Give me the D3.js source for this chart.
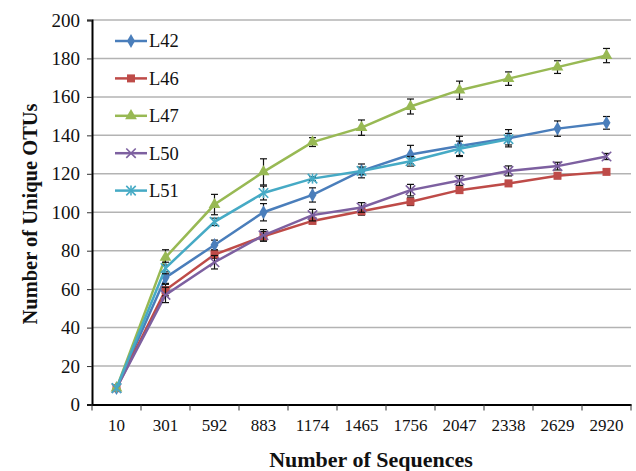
<!DOCTYPE html>
<html>
<head>
<meta charset="utf-8">
<script src="https://cdn.jsdelivr.net/npm/d3@7"></script>
<style>
  body { margin: 0; background: #fff; }
  svg { display: block; font-family: "Liberation Serif", "DejaVu Serif", serif; }
</style>
</head>
<body>
<svg id="chart" width="636" height="471"></svg>
<script>
const sequences = ['10', '301', '592', '883', '1174', '1465', '1756', '2047', '2338', '2629', '2920'];
const yTicks = [0, 20, 40, 60, 80, 100, 120, 140, 160, 180, 200];

const seriesNames = ['L42', 'L46', 'L47', 'L50', 'L51'];
const L42 = [8.5, 66, 83, 100, 109, 121.5, 130, 134.5, 138.5, 143.5, 146.5];
const L42err = [0, 3, 2.5, 4.5, 3.7, 3.6, 4.8, 5, 4.5, 4, 3.3];
const L46 = [8.5, 59.5, 78, 87.5, 95.5, 100.5, 105.5, 111.5, 115, 119, 121];
const L46err = [0, 3, 2, 2.5, 1.5, 2, 2, 1.5, 1.5, 1.5, 1.2];
const L47 = [8.5, 76.5, 104, 121, 136.5, 144, 155, 163.5, 169.5, 175.5, 181.5];
const L47err = [0, 4, 5.3, 6.8, 2.3, 4, 3.9, 4.7, 3.5, 3.3, 3.7];
const L50 = [8.5, 57, 74, 88, 98.5, 102.5, 111.5, 116.5, 121.5, 124, 129];
const L50err = [0, 4, 3.5, 3, 3, 2.5, 3, 2.5, 2.6, 2, 1.6];
const L51 = [8.5, 71, 95, 110, 117.5, 121.5, 126.5, 133, 138];
const L51err = [0, 3, 1.9, 3.6, 1, 2, 2.5, 4, 3];

const colors = ['#4a7ebb', '#be4b48', '#98b954', '#7d60a0', '#46aac5'];
const markers = ['diamond', 'square', 'triangle', 'cross', 'star'];
const values = [L42, L46, L47, L50, L51];
const errors = [L42err, L46err, L47err, L50err, L51err];

const svg = d3.select('#chart');
const margin = { top: 20, right: 5, bottom: 67, left: 92 };
const width = 631 - margin.left;
const height = 404.5 - margin.top;

const x = d3.scaleBand().domain(sequences).range([0, width]);
const y = d3.scaleLinear().domain([0, 200]).range([height, 0]);

const g = svg.append('g').attr('transform', `translate(${margin.left},${margin.top})`);

// grid lines
g.append('g')
  .selectAll('line')
  .data(yTicks.filter(d => d > 0))
  .join('line')
  .attr('x1', 0).attr('x2', width)
  .attr('y1', d => y(d)).attr('y2', d => y(d))
  .attr('stroke', '#b3b3b3')
  .attr('stroke-width', 1.5);

// axes
const yAxis = g.append('g')
  .call(d3.axisLeft(y).tickValues(yTicks).tickSize(5).tickPadding(7));
const xAxis = g.append('g')
  .attr('transform', `translate(0,${height})`)
  .call(d3.axisBottom(x).tickSize(0).tickPadding(14));

[yAxis, xAxis].forEach(a => {
  a.select('.domain').attr('stroke', '#000').attr('stroke-width', 2);
  a.selectAll('text').attr('fill', '#111').attr('font-family', '"Liberation Serif", serif');
  a.selectAll('.tick line').attr('stroke', '#333');
});
yAxis.selectAll('text').attr('font-size', 19);
xAxis.selectAll('text').attr('font-size', 17);
// x ticks at band boundaries
xAxis.append('g')
  .selectAll('line')
  .data(d3.range(sequences.length + 1))
  .join('line')
  .attr('x1', i => i * x.step()).attr('x2', i => i * x.step())
  .attr('y1', 0).attr('y2', 6)
  .attr('stroke', '#333');

const symbolOf = {
  diamond: d3.symbol().type(d3.symbolDiamond).size(55),
  square: d3.symbol().type(d3.symbolSquare).size(64),
  triangle: d3.symbol().type(d3.symbolTriangle).size(60),
  cross: d3.symbol().type(d3.symbolX).size(60),
  star: d3.symbol().type(d3.symbolX).size(60)
};

function drawMarker(sel, kind, color) {
  if (kind === 'cross' || kind === 'star') {
    sel.append('path').attr('d', symbolOf[kind]()).attr('fill', 'none').attr('stroke', color).attr('stroke-width', 1.6);
    if (kind === 'star') {
      sel.append('line').attr('x1', 0).attr('x2', 0).attr('y1', -5).attr('y2', 5).attr('stroke', color).attr('stroke-width', 1.6);
    }
  } else {
    sel.append('path').attr('d', symbolOf[kind]()).attr('fill', color);
  }
}

const line = d3.line().x((d, i) => x(sequences[i]) + x.bandwidth() / 2).y(d => y(d));

values.forEach((vals, s) => {
  const sg = g.append('g');
  sg.append('path')
    .datum(vals)
    .attr('d', line)
    .attr('fill', 'none')
    .attr('stroke', colors[s])
    .attr('stroke-width', 2.5);

  // error bars
  const eb = sg.append('g').selectAll('g')
    .data(vals.map((v, i) => ({ v, e: errors[s][i], i })).filter(d => d.e > 0))
    .join('g')
    .attr('transform', d => `translate(${x(sequences[d.i]) + x.bandwidth() / 2},0)`);
  eb.append('line').attr('x1', 0).attr('x2', 0)
    .attr('y1', d => y(d.v - d.e)).attr('y2', d => y(d.v + d.e))
    .attr('stroke', '#111').attr('stroke-width', 1.2);
  eb.append('line').attr('x1', -3.5).attr('x2', 3.5)
    .attr('y1', d => y(d.v + d.e)).attr('y2', d => y(d.v + d.e))
    .attr('stroke', '#111').attr('stroke-width', 1.2);
  eb.append('line').attr('x1', -3.5).attr('x2', 3.5)
    .attr('y1', d => y(d.v - d.e)).attr('y2', d => y(d.v - d.e))
    .attr('stroke', '#111').attr('stroke-width', 1.2);

  sg.append('g').selectAll('g')
    .data(vals)
    .join('g')
    .attr('transform', (d, i) => `translate(${x(sequences[i]) + x.bandwidth() / 2},${y(d)})`)
    .each(function () { drawMarker(d3.select(this), markers[s], colors[s]); });
});

// legend
const legend = svg.append('g').attr('transform', 'translate(115,41)');
seriesNames.forEach((name, i) => {
  const row = legend.append('g').attr('transform', `translate(0,${i * 37.4})`);
  row.append('line').attr('x1', 0).attr('x2', 32).attr('y1', 0).attr('y2', 0)
    .attr('stroke', colors[i]).attr('stroke-width', 2.5);
  const m = row.append('g').attr('transform', 'translate(16,0)');
  drawMarker(m, markers[i], colors[i]);
  row.append('text').attr('x', 34).attr('y', 0).attr('dy', '0.35em')
    .attr('font-size', 18.5).attr('fill', '#111').text(name);
});

// axis titles
svg.append('text')
  .attr('x', 371).attr('y', 467)
  .attr('text-anchor', 'middle')
  .attr('font-size', 22).attr('font-weight', 'bold').attr('fill', '#111')
  .text('Number of Sequences');
svg.append('text')
  .attr('transform', `translate(37,214) rotate(-90)`)
  .attr('text-anchor', 'middle')
  .attr('font-size', 20.5).attr('font-weight', 'bold').attr('fill', '#111')
  .text('Number of Unique OTUs');
</script>
</body>
</html>
